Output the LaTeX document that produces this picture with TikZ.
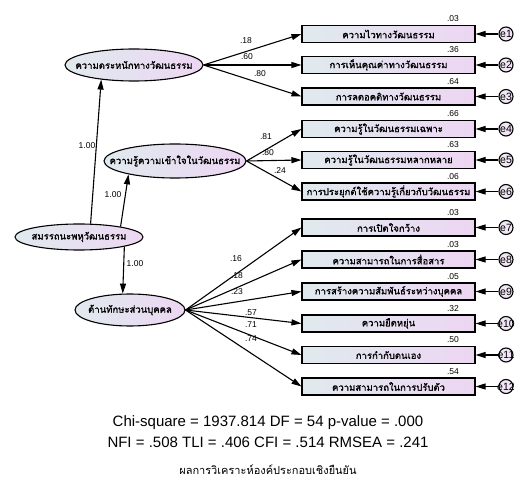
\documentclass[tikz,border=0pt]{standalone}
\usepackage{fontspec}
\setmainfont{Liberation Sans}
\newfontfamily\thai[Script=Thai]{Loma}
\newfontfamily\thaib[Script=Thai,FakeBold=1.2]{Loma}
\usetikzlibrary{arrows.meta,shapes.geometric}
\definecolor{gl}{RGB}{224,234,238}
\definecolor{gr}{RGB}{237,214,243}
\definecolor{cf}{RGB}{242,230,246}
\newcommand{\zb}[1]{\makebox[0pt]{#1}}
\begin{document}
\begin{tikzpicture}[x=1pt,y=-1pt,
  obs/.style={draw,line width=1.1pt,rectangle,minimum width=173pt,minimum height=17pt,inner sep=0pt,left color=gl,right color=gr,font=\thaib\fontsize{9.5}{10}\selectfont},
  lat/.style={draw,line width=1.1pt,ellipse,inner sep=0pt,left color=gl,right color=gr,font=\thaib\fontsize{9.5}{10}\selectfont},
  err/.style={draw,line width=1.1pt,circle,minimum size=14pt,inner sep=0pt,fill=cf,font=\fontsize{10.5}{10}\selectfont},
  arr/.style={line width=1.1pt,-{Triangle[length=10pt,width=6pt]}},
  lbl/.style={font=\fontsize{8.5}{9}\selectfont,inner sep=0pt},
  fit/.style={font=\fontsize{15}{16}\selectfont,inner sep=0pt},
]
\path[fill=white] (0,0) rectangle (530,486);
\useasboundingbox (0,0) rectangle (530,486);

% latent variables
\node[lat,minimum width=138pt,minimum height=32pt] (L1) at (134,65) {\zb{ความตระหนักทางวัฒนธรรม}};
\node[lat,minimum width=142pt,minimum height=34pt] (L2) at (175,161) {\zb{ความรู้ความเข้าใจในวัฒนธรรม}};
\node[lat,minimum width=128pt,minimum height=26pt] (L0) at (79,237) {\zb{สมรรถนะพหุวัฒนธรรม}};
\node[lat,minimum width=110pt,minimum height=32pt] (L3) at (130,310) {\zb{ด้านทักษะส่วนบุคคล}};

% observed variables
\node[obs] (b1) at (388.5,34) {ความไวทางวัฒนธรรม};
\node[obs] (b2) at (388.5,65) {การเห็นคุณค่าทางวัฒนธรรม};
\node[obs] (b3) at (388.5,96.5) {การลดอคติทางวัฒนธรรม};
\node[obs] (b4) at (388.5,129) {ความรู้ในวัฒนธรรมเฉพาะ};
\node[obs] (b5) at (388.5,160) {ความรู้ในวัฒนธรรมหลากหลาย};
\node[obs] (b6) at (388.5,191.5) {การประยุกต์ใช้ความรู้เกี่ยวกับวัฒนธรรม};
\node[obs] (b7) at (388.5,227.5) {การเปิดใจกว้าง};
\node[obs] (b8) at (388.5,259.5) {ความสามารถในการสื่อสาร};
\node[obs] (b9) at (388.5,291.5) {การสร้างความสัมพันธ์ระหว่างบุคคล};
\node[obs] (b10) at (388.5,323.5) {ความยืดหยุ่น};
\node[obs] (b11) at (388.5,355) {การกำกับตนเอง};
\node[obs] (b12) at (388.5,386.5) {ความสามารถในการปรับตัว};

% error terms
\foreach \i/\y in {1/34,2/65,3/96.5,4/129,5/160,6/191.5,7/227.5,8/259.5,9/291.5,10/323.5,11/355,12/386.5}{
  \node[err] (e\i) at (506,\y) {\zb{e\i}};
  \draw[arr] (e\i) -- (b\i);
}

% squared multiple correlations
\node[lbl] (r1) at (453,19) {.03};
\node[lbl] (r2) at (453,50) {.36};
\node[lbl] (r3) at (453,81.5) {.64};
\node[lbl] (r4) at (453,114) {.66};
\node[lbl] (r5) at (453,145) {.63};
\node[lbl] (r6) at (453,176.5) {.06};
\node[lbl] (r7) at (453,212.5) {.03};
\node[lbl] (r8) at (453,244.5) {.03};
\node[lbl] (r9) at (453,276.5) {.05};
\node[lbl] (r10) at (453,308.5) {.32};
\node[lbl] (r11) at (453,340) {.50};
\node[lbl] (r12) at (453,371.5) {.54};

% second-order paths
\draw[arr] (L0.49) -- (L1.204);
\draw[arr] (L0.14) -- (L2.196);
\draw[arr] (L0.-12) -- (L3.114);
\node[lbl] (p1) at (87,146) {1.00};
\node[lbl] (p2) at (113,195) {1.00};
\node[lbl] (p3) at (135,264) {1.00};

% loadings
\foreach \i in {1,2,3}{\draw[arr] (L1.east) -- (b\i.west);}
\foreach \i in {4,5,6}{\draw[arr] (L2.east) -- (b\i.west);}
\foreach \i in {7,8,9,10,11,12}{\draw[arr] (L3.east) -- (b\i.west);}
\node[lbl] (l1) at (246,41) {.18};
\node[lbl] (l2) at (247,57) {.60};
\node[lbl] (l3) at (260,74) {.80};
\node[lbl] (l4) at (266,137) {.81};
\node[lbl] (l5) at (268,153) {.80};
\node[lbl] (l6) at (280,171) {.24};
\node[lbl] (l7) at (236,259) {.16};
\node[lbl] (l8) at (237,276) {.18};
\node[lbl] (l9) at (237,292) {.23};
\node[lbl] (l10) at (251,313) {.57};
\node[lbl] (l11) at (251,325) {.71};
\node[lbl] (l12) at (251,339) {.74};

% fit indices and caption
\node[fit] (f1) at (268,423) {Chi-square = 1937.814 DF = 54 p-value = .000};
\node[fit] (f2) at (268,442) {NFI = .508 TLI = .406 CFI = .514 RMSEA = .241};
\node[inner sep=0pt,font=\thai\fontsize{11}{12}\selectfont] (cap) at (268,470) {ผลการวิเคราะห์องค์ประกอบเชิงยืนยัน};
\end{tikzpicture}
\end{document}
